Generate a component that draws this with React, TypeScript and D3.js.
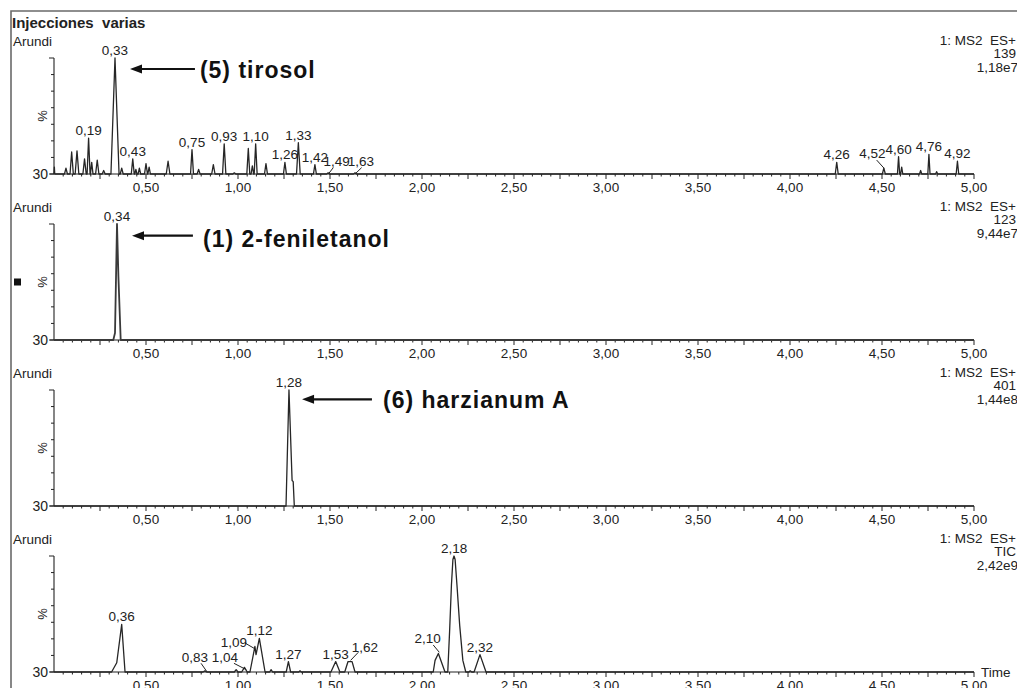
import { useEffect, useRef } from 'react';
import * as d3 from 'd3';

type Pt = [number, number];
type PeakLabel = [string, number, number];
// text, label time, label %, leader from (time, %), leader to (time, %)
type LeaderLabel = [string, number, number, number, number, number, number];

const xTickValues = [0.5, 1, 1.5, 2, 2.5, 3, 3.5, 4, 4.5, 5];
const sampleNames = ['Arundi', 'Arundi', 'Arundi', 'Arundi'];
const scanNames = ['1: MS2  ES+', '1: MS2  ES+', '1: MS2  ES+', '1: MS2  ES+'];
const channels = ['139', '123', '401', 'TIC'];
const maxIntensities = ['1,18e7', '9,44e7', '1,44e8', '2,42e9'];

// m/z 139 trace: [time, %, half width of the peak base]
const tirosolPeaks: [number, number, number][] = [
  [0.002, 6, 0.002], [0.065, 5, 0.008], [0.096, 19, 0.009], [0.125, 20, 0.01],
  [0.166, 13, 0.009], [0.188, 31, 0.008], [0.205, 10, 0.007], [0.235, 12, 0.009],
  [0.27, 3, 0.008], [0.3315, 100, 0.022], [0.368, 5, 0.008], [0.428, 13, 0.008],
  [0.445, 4, 0.006], [0.464, 5, 0.007], [0.5, 9, 0.008], [0.517, 6, 0.007],
  [0.62, 11, 0.01], [0.75, 21, 0.008], [0.786, 4, 0.008], [0.866, 8, 0.009],
  [0.925, 26, 0.009], [0.98, 1, 0.008], [1.056, 22, 0.008], [1.078, 7, 0.007],
  [1.096, 26, 0.008], [1.152, 9, 0.008], [1.255, 10, 0.008], [1.328, 27, 0.01],
  [1.418, 8, 0.008], [1.49, 1, 0.008], [1.636, 1, 0.008], [4.254, 10, 0.008],
  [4.51, 5, 0.008], [4.59, 15, 0.006], [4.607, 6, 0.006], [4.71, 3, 0.006],
  [4.755, 17, 0.006], [4.797, 2, 0.006], [4.91, 11, 0.007],
];

const feniletanolTrace: Pt[] = [
  [0, 0], [0.3223, 0], [0.3315, 6], [0.3424, 100], [0.35, 55], [0.3625, 0], [5, 0],
];

const harzianumTrace: Pt[] = [
  [0, 0], [1.261, 0], [1.277, 100], [1.294, 22], [1.3, 21], [1.306, 0], [5, 0],
];

const ticTrace: Pt[] = [
  [0, 0],
  [0.313, 0], [0.341, 8], [0.368, 41], [0.386, 0],
  [0.81, 0], [0.82, 1], [0.83, 0],
  [0.98, 0], [0.99, 2], [1.0, 0],
  [1.02, 0], [1.035, 4], [1.05, 0],
  [1.065, 0], [1.092, 22], [1.098, 15], [1.116, 29], [1.147, 0],
  [1.172, 0], [1.18, 2], [1.188, 0],
  [1.262, 0], [1.274, 9], [1.286, 0],
  [1.33, 0], [1.337, 1], [1.344, 0],
  [1.505, 0], [1.531, 9], [1.554, 0],
  [1.58, 0], [1.598, 9], [1.62, 9], [1.636, 0],
  [2.061, 0], [2.071, 10], [2.089, 16], [2.125, 0],
  [2.14, 0], [2.15, 35], [2.16, 75], [2.168, 97], [2.174, 100], [2.18, 97],
  [2.19, 75], [2.205, 40], [2.222, 10], [2.238, 0],
  [2.255, 0], [2.262, 1], [2.27, 0],
  [2.283, 0], [2.315, 15], [2.348, 0],
  [5, 0],
];

const tirosolTrace: Pt[] = [
  [0, 0] as Pt,
  ...tirosolPeaks.flatMap(([t, h, w]) => [[t - w, 0], [t, h], [t + w, 0]] as Pt[]),
  [5, 0] as Pt,
];

const traces = [tirosolTrace, feniletanolTrace, harzianumTrace, ticTrace];

const peakLabels: PeakLabel[][] = [
  [
    ['0,33', 0.3315, 100], ['0,19', 0.188, 31], ['0,43', 0.428, 13], ['0,75', 0.75, 21],
    ['0,93', 0.925, 26], ['1,10', 1.096, 26], ['1,26', 1.255, 10], ['1,33', 1.328, 27],
    ['1,42', 1.418, 8], ['4,26', 4.254, 10], ['4,60', 4.59, 15], ['4,76', 4.755, 17],
    ['4,92', 4.91, 11],
  ],
  [['0,34', 0.3424, 100]],
  [['1,28', 1.277, 100]],
  [
    ['0,36', 0.368, 41], ['1,12', 1.116, 29], ['1,27', 1.274, 9], ['1,53', 1.531, 9],
    ['2,18', 2.174, 100], ['2,32', 2.315, 15],
  ],
];

const leaderLabels: LeaderLabel[][] = [
  [
    ['1,49', 1.536, 7, 1.518, 5.5, 1.491, 0],
    ['1,63', 1.668, 7, 1.672, 5.5, 1.636, 0],
    ['4,52', 4.448, 13.8, 4.471, 12, 4.511, 5],
  ],
  [],
  [],
  [
    ['0,83', 0.766, 8.6, 0.799, 7.5, 0.83, 0.5],
    ['1,04', 0.929, 8.6, 0.978, 7.5, 1.045, 2],
    ['1,09', 0.978, 21.8, 1.038, 25, 1.092, 20],
    ['1,62', 1.69, 17.5, 1.654, 17, 1.612, 10],
    ['2,10', 2.03, 24.7, 2.061, 23.3, 2.094, 17],
  ],
];

// compound callouts on the first three panels
const compounds = ['(5) tirosol', '(1) 2-feniletanol', '(6) harzianum A'];
const arrowTip = [0.413, 0.424, 1.348];
const arrowTail = [0.766, 0.755, 1.728];
const arrowPct = [90.5, 89.9, 92];
const compoundT = [0.793, 0.81, 1.788];
const compoundPct = [82.8, 80.4, 84.5];

const FONT = '"Liberation Sans", Arial, Helvetica, sans-serif';
const INK = '#222';

const Chromatograms = () => {
  const ref = useRef<SVGSVGElement | null>(null);

  useEffect(() => {
    const svg = d3.select(ref.current);
    svg.selectAll('*').remove();

    const W = 1017, H = 688;
    const step = 166;
    const fmt = (v: number) => d3.format('.2f')(v).replace('.', ',');

    svg.append('path')
      .attr('d', `M11,${H} V11 H${W}`)
      .attr('fill', 'none')
      .attr('stroke', '#6a6a6a')
      .attr('stroke-width', 1.6);

    svg.append('text')
      .attr('x', 12).attr('y', 28)
      .attr('font-family', FONT)
      .attr('font-size', 15).attr('font-weight', 'bold')
      .style('white-space', 'pre')
      .attr('fill', INK)
      .text('Injecciones  varias');

    const x = d3.scaleLinear().domain([0, 5]).range([54, 974]);
    const minorTicks = d3.range(1, 101).map(k => k * 0.05);

    traces.forEach((trace, i) => {
      const off = i * step;
      const y = d3.scaleLinear().domain([0, 100]).range([174 + off, 58 + off]);
      const g = svg.append('g').attr('font-family', FONT).attr('fill', INK);

      // header texts
      g.append('text').attr('x', 13).attr('y', 45.5 + off)
        .attr('font-size', 13.5).text(sampleNames[i]);
      [scanNames[i], channels[i], maxIntensities[i]].forEach((s, k) => {
        g.append('text')
          .attr('x', k === 2 ? 1018 : 1016)
          .attr('y', 44.5 + off + k * 13.5)
          .attr('text-anchor', 'end')
          .attr('font-size', 13.5)
          .style('white-space', 'pre')
          .text(s);
      });

      // y axis
      const yTicks = d3.range(8).map(k => (k * 100) / 7);
      g.append('line')
        .attr('x1', 54).attr('x2', 54)
        .attr('y1', y(0)).attr('y2', y(100))
        .attr('stroke', INK).attr('stroke-width', 1.1);
      g.selectAll('.ytick').data(yTicks).enter().append('line')
        .attr('x1', (d, k) => (k === 0 || k === 7 ? 49 : 51))
        .attr('x2', 54)
        .attr('y1', d => y(d)).attr('y2', d => y(d))
        .attr('stroke', INK).attr('stroke-width', 1);
      g.append('text').attr('x', 48).attr('y', y(0) + 5)
        .attr('text-anchor', 'end').attr('font-size', 14).text('30');
      const midY = (y(0) + y(100)) / 2;
      g.append('text')
        .attr('transform', `translate(47,${midY}) rotate(-90)`)
        .attr('text-anchor', 'middle').attr('font-size', 13).text('%');
      if (i === 1) {
        g.append('rect').attr('x', 14).attr('y', midY - 3.5)
          .attr('width', 7).attr('height', 7).attr('fill', '#111');
      }

      // x axis
      g.append('line')
        .attr('x1', 50).attr('x2', x(5))
        .attr('y1', y(0)).attr('y2', y(0))
        .attr('stroke', INK).attr('stroke-width', 1.1);
      g.selectAll('.xtick').data(minorTicks).enter().append('line')
        .attr('x1', d => x(d)).attr('x2', d => x(d))
        .attr('y1', y(0))
        .attr('y2', (d, k) => y(0) + ((k + 1) % 5 === 0 ? 5 : 2.5))
        .attr('stroke', INK).attr('stroke-width', 1);
      g.selectAll('.xlab').data(xTickValues).enter().append('text')
        .attr('x', d => x(d)).attr('y', y(0) + 18)
        .attr('text-anchor', 'middle').attr('font-size', 13.5)
        .text(d => fmt(d));
      if (i === 3) {
        g.append('text').attr('x', 981).attr('y', y(0) + 5)
          .attr('font-size', 13.5).text('Time');
      }

      // trace
      const line = d3.line<Pt>().x(d => x(d[0])).y(d => y(d[1]));
      g.append('path')
        .datum(trace)
        .attr('d', line)
        .attr('fill', 'none')
        .attr('stroke', i === 1 ? '#3a3a3a' : '#262626')
        .attr('stroke-width', i === 1 ? 1.8 : 1.3)
        .attr('stroke-linejoin', 'round');

      // peak labels
      g.selectAll('.plab').data(peakLabels[i]).enter().append('text')
        .attr('x', d => x(d[1])).attr('y', d => y(d[2]) - 3)
        .attr('text-anchor', 'middle').attr('font-size', 13.5)
        .text(d => d[0]);
      leaderLabels[i].forEach(([s, lt, lp, ft, fp, tt, tp]) => {
        g.append('text').attr('x', x(lt)).attr('y', y(lp))
          .attr('text-anchor', 'middle').attr('font-size', 13.5).text(s);
        g.append('line')
          .attr('x1', x(ft)).attr('y1', y(fp))
          .attr('x2', x(tt)).attr('y2', y(tp))
          .attr('stroke', INK).attr('stroke-width', 1);
      });

      // compound callout
      if (i < compounds.length) {
        const ay = y(arrowPct[i]);
        const tip = x(arrowTip[i]);
        g.append('line')
          .attr('x1', tip + 8).attr('x2', x(arrowTail[i]))
          .attr('y1', ay).attr('y2', ay)
          .attr('stroke', '#111').attr('stroke-width', 2.2);
        g.append('path')
          .attr('d', `M${tip},${ay} l12,-4.5 v9 z`)
          .attr('fill', '#111');
        g.append('text')
          .attr('x', x(compoundT[i])).attr('y', y(compoundPct[i]))
          .attr('font-size', 23).attr('font-weight', 'bold')
          .attr('letter-spacing', 1)
          .attr('fill', '#111')
          .text(compounds[i]);
      }
    });
  }, []);

  return (
    <svg
      ref={ref}
      width={1017}
      height={688}
      style={{ position: 'absolute', left: 0, top: 0, background: '#fff' }}
    />
  );
};

export default function App() {
  return <Chromatograms />;
}
